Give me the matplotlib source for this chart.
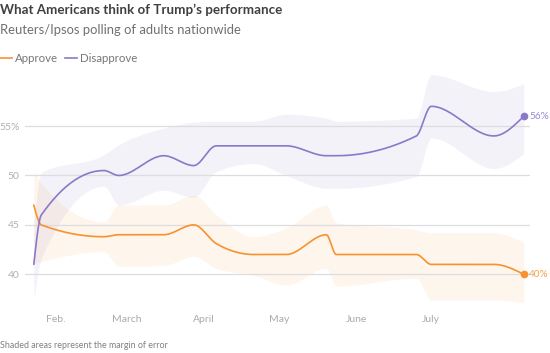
import numpy as np
import matplotlib
matplotlib.use("Agg")
import matplotlib.pyplot as plt
import pandas as pd

# ---------------- data ----------------
poll_dates = ["2025-01-23", "2025-01-26", "2025-02-20", "2025-02-26", "2025-03-16",
              "2025-03-28", "2025-04-06", "2025-04-21", "2025-05-04", "2025-05-20",
              "2025-05-24", "2025-06-25", "2025-07-01", "2025-07-26", "2025-08-07"]
approve = [47, 45, 43.8, 44, 44, 45, 43.1, 42, 42, 44, 42, 42, 41, 41, 40]
approve_low = [41.1, 41.3, 42.3, 40.8, 40.9, 41.8, 40.6, 39.9, 38.9, 40.6, 38.8, 39.6, 37.4, 37.4, 37.1]
approve_high = [50.4, 49.2, 45.3, 47.0, 47.0, 48.0, 46.0, 43.8, 44.7, 47.0, 45.2, 44.5, 44.2, 44.2, 43.2]
disapprove = [41, 46, 50.5, 50, 52, 51, 53, 53, 53, 52, 52, 54, 57, 54, 56]
disapprove_low = [37.4, 41.6, 48.9, 47.0, 48.5, 47.8, 50.4, 51.2, 50.0, 48.7, 48.7, 49.9, 53.8, 50.7, 52.2]
disapprove_high = [45.0, 50.3, 52.1, 53.1, 54.8, 55.4, 55.5, 55.5, 56.2, 55.8, 55.5, 55.8, 60.2, 58.5, 59.3]

month_starts = ["2025-02-01", "2025-03-01", "2025-04-01", "2025-05-01", "2025-06-01", "2025-07-01"]
month_labels = ["Feb.", "March", "April", "May", "June", "July"]
y_ticks = [40, 45, 50, 55]
y_tick_labels = ["40", "45", "50", "55%"]

ORANGE = "#F7922E"
PURPLE = "#8A79C8"

plt.rcParams['font.family'] = ['Lato', 'DejaVu Sans']


def monotone_curve(x, y, n=30):
    """Monotone cubic interpolation (like d3.curveMonotoneX)."""
    x = np.asarray(x, float)
    y = np.asarray(y, float)
    h = np.diff(x)
    s = np.diff(y) / h
    m = np.zeros_like(y)
    for i in range(1, len(x) - 1):
        h0, h1 = h[i - 1], h[i]
        s0, s1 = s[i - 1], s[i]
        p = (s0 * h1 + s1 * h0) / (h0 + h1)
        m[i] = (np.sign(s0) + np.sign(s1)) * min(abs(s0), abs(s1), 0.5 * abs(p))
    m[0] = (3 * s[0] - m[1]) / 2
    m[-1] = (3 * s[-1] - m[-2]) / 2
    xs, ys = [], []
    for i in range(len(h)):
        t = np.linspace(0, 1, n, endpoint=(i == len(h) - 1))
        h00 = 2 * t**3 - 3 * t**2 + 1
        h10 = t**3 - 2 * t**2 + t
        h01 = -2 * t**3 + 3 * t**2
        h11 = t**3 - t**2
        ys.append(h00 * y[i] + h10 * h[i] * m[i] + h01 * y[i + 1] + h11 * h[i] * m[i + 1])
        xs.append(x[i] + t * h[i])
    return np.concatenate(xs), np.concatenate(ys)


x = pd.to_datetime(poll_dates).dayofyear.values.astype(float)
mx = pd.to_datetime(month_starts).dayofyear.values.astype(float)

W, H = 550, 353
fig = plt.figure(figsize=(W / 100, H / 100), dpi=100)
ax = fig.add_axes([25 / W, 1 - 303.9 / H, 505 / W, (303.9 - 66.8) / H])

# bands
for lo, hi, col, al in [(approve_low, approve_high, "#F7922E", 0.09),
                        (disapprove_low, disapprove_high, "#6F5FBF", 0.08)]:
    xs, ylo = monotone_curve(x, lo)
    _, yhi = monotone_curve(x, hi)
    ax.fill_between(xs, ylo, yhi, color=col, alpha=al, linewidth=0, zorder=1)

for yv in y_ticks:
    ax.axhline(yv, color="#dddddd", linewidth=0.9, zorder=2)

for vals, col in [(approve, ORANGE), (disapprove, PURPLE)]:
    xs, ys = monotone_curve(x, vals)
    ax.plot(xs, ys, color=col, linewidth=1.2, zorder=3, solid_capstyle="round")
    ax.plot([x[-1]], [vals[-1]], 'o', color=col, markersize=4.5, zorder=4)

ax.text(x[-1] + 2.2, disapprove[-1], f"{disapprove[-1]}%", color="#9A8CD2",
        fontsize=7.2, va="center", ha="left")
ax.text(x[-1] + 2.2, approve[-1], f"{approve[-1]}%", color="#F5A04A",
        fontsize=7.2, va="center", ha="left")

ax.set_xlim(19.48, 221.48)
ax.set_ylim(37, 61)
ax.set_yticks(y_ticks)
ax.set_yticklabels(y_tick_labels)
ax.set_xticks(mx)
ax.set_xticklabels(month_labels)
ax.tick_params(axis="y", length=0, pad=4, labelsize=7.5, labelcolor="#b0b0b0")
ax.tick_params(axis="x", length=0, pad=8, labelsize=7.5, labelcolor="#aaaaaa")
for sp in ax.spines.values():
    sp.set_visible(False)
ax.set_facecolor("none")


def fy(py):
    return 1 - py / H


fig.text(0, fy(13.5), "What Americans think of Trump\u2019s performance", fontsize=9.6,
         fontweight="bold", color="#404040", va="baseline", ha="left")
fig.text(0, fy(34.3), "Reuters/Ipsos polling of adults nationwide", fontsize=9.4,
         color="#707070", va="baseline", ha="left")

# legend
fig.add_artist(plt.Line2D([0, 12 / W], [fy(58), fy(58)], color=ORANGE, linewidth=1.2))
fig.text(15 / W, fy(62.5), "Approve", fontsize=8.3, color="#777777", va="baseline", ha="left")
fig.add_artist(plt.Line2D([65 / W, 77 / W], [fy(58), fy(58)], color=PURPLE, linewidth=1.2))
fig.text(80 / W, fy(62.5), "Disapprove", fontsize=8.3, color="#777777", va="baseline", ha="left")

fig.text(0, fy(348.5), "Shaded areas represent the margin of error", fontsize=6.4,
         color="#808080", va="baseline", ha="left")

fig.savefig("out.png", dpi=100)
